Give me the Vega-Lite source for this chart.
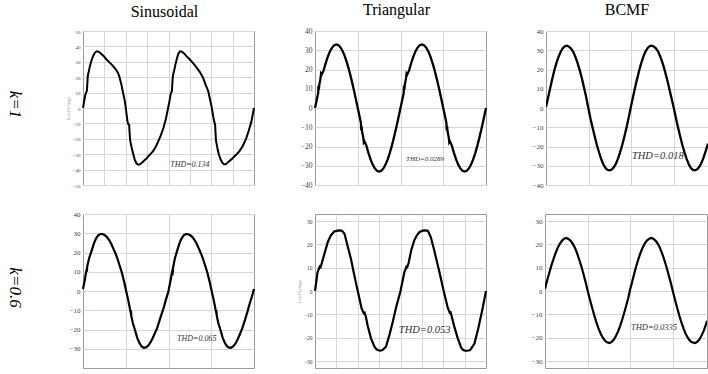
{
"$schema": "https://vega.github.io/schema/vega-lite/v6.json",
"padding": {"left": 5, "top": 1, "right": 0, "bottom": 0},
"background": "white",
"datasets": {
"s1": [{"t":0,"v":0},{"t":0.3,"v":5},{"t":0.6,"v":9},{"t":0.8,"v":10.5},{"t":0.9,"v":11},{"t":1.0,"v":15},{"t":1.1,"v":20},{"t":1.2,"v":22},{"t":1.3,"v":23},{"t":1.6,"v":27},{"t":2.0,"v":31},{"t":2.4,"v":34},{"t":2.8,"v":36},{"t":3.2,"v":36.8},{"t":3.6,"v":36.6},{"t":4.0,"v":35.9},{"t":4.8,"v":33.8},{"t":5.5,"v":31.5},{"t":6.3,"v":29.3},{"t":7.1,"v":27},{"t":7.7,"v":25},{"t":8.2,"v":22.8},{"t":8.6,"v":19.5},{"t":9.0,"v":15},{"t":9.4,"v":9.5},{"t":9.8,"v":4.3},{"t":10.1,"v":-2},{"t":10.4,"v":-8.7},{"t":10.6,"v":-10.5},{"t":10.8,"v":-11},{"t":10.9,"v":-16},{"t":11.0,"v":-20},{"t":11.1,"v":-22},{"t":11.4,"v":-26},{"t":11.8,"v":-30.4},{"t":12.1,"v":-33.5},{"t":12.5,"v":-35.9},{"t":12.9,"v":-36.8},{"t":13.3,"v":-36.6},{"t":13.9,"v":-35.2},{"t":14.9,"v":-32.6},{"t":15.6,"v":-30.4},{"t":16.4,"v":-28},{"t":17.0,"v":-25.3},{"t":17.6,"v":-21.7},{"t":18.2,"v":-17.8},{"t":18.8,"v":-13},{"t":19.4,"v":-7},{"t":19.9,"v":0},{"t":20.2,"v":4},{"t":20.5,"v":9},{"t":20.7,"v":10.5},{"t":20.8,"v":11},{"t":20.9,"v":16},{"t":21.0,"v":20},{"t":21.1,"v":22},{"t":21.3,"v":24},{"t":21.6,"v":28},{"t":22.0,"v":32.5},{"t":22.3,"v":35.2},{"t":22.7,"v":36.8},{"t":23.1,"v":36.6},{"t":23.6,"v":35.6},{"t":24.2,"v":33.7},{"t":25.0,"v":31.5},{"t":25.8,"v":29},{"t":26.5,"v":26.5},{"t":27.3,"v":23.5},{"t":28.1,"v":19.6},{"t":28.7,"v":15},{"t":29.3,"v":10.9},{"t":30.0,"v":2},{"t":30.5,"v":-6},{"t":30.8,"v":-10},{"t":30.9,"v":-10.8},{"t":31.0,"v":-16},{"t":31.1,"v":-21},{"t":31.2,"v":-22.5},{"t":31.5,"v":-27},{"t":31.8,"v":-30.4},{"t":32.2,"v":-33.5},{"t":32.6,"v":-35.5},{"t":33.0,"v":-36.6},{"t":33.4,"v":-36.6},{"t":34.0,"v":-35},{"t":35.0,"v":-32.6},{"t":35.8,"v":-30.4},{"t":36.6,"v":-28},{"t":37.4,"v":-24.5},{"t":38.2,"v":-19.6},{"t":38.8,"v":-14.5},{"t":39.4,"v":-8.7},{"t":40.0,"v":0}],
"t1": [{"t":0,"v":0},{"t":0.5,"v":5.2},{"t":0.75,"v":7.8},{"t":0.8,"v":11.5},{"t":0.9,"v":9.5},{"t":1.0,"v":12},{"t":1.3,"v":15.5},{"t":1.4,"v":17.5},{"t":1.5,"v":17},{"t":1.6,"v":17.5},{"t":2.0,"v":19.4},{"t":2.5,"v":23.3},{"t":3.0,"v":26.7},{"t":3.5,"v":29.4},{"t":4.0,"v":31.4},{"t":4.5,"v":32.6},{"t":5.0,"v":33},{"t":5.5,"v":32.6},{"t":6.0,"v":31.4},{"t":6.5,"v":29.4},{"t":7.0,"v":26.7},{"t":7.5,"v":23.3},{"t":8.0,"v":19.4},{"t":8.5,"v":15},{"t":9.0,"v":10.2},{"t":9.5,"v":5.2},{"t":10.0,"v":0},{"t":10.5,"v":-5.2},{"t":10.75,"v":-7.8},{"t":10.8,"v":-11.5},{"t":10.9,"v":-9.5},{"t":11.0,"v":-12},{"t":11.3,"v":-15.5},{"t":11.4,"v":-17.5},{"t":11.5,"v":-17},{"t":11.6,"v":-17.5},{"t":12.0,"v":-19.4},{"t":12.5,"v":-23.3},{"t":13.0,"v":-26.7},{"t":13.5,"v":-29.4},{"t":14.0,"v":-31.4},{"t":14.5,"v":-32.6},{"t":15.0,"v":-33},{"t":15.5,"v":-32.6},{"t":16.0,"v":-31.4},{"t":16.5,"v":-29.4},{"t":17.0,"v":-26.7},{"t":17.5,"v":-23.3},{"t":18.0,"v":-19.4},{"t":18.5,"v":-15},{"t":19.0,"v":-10.2},{"t":19.5,"v":-5.2},{"t":20.0,"v":0},{"t":20.5,"v":5.2},{"t":20.75,"v":7.8},{"t":20.8,"v":11.5},{"t":20.9,"v":9.5},{"t":21.0,"v":12},{"t":21.3,"v":15.5},{"t":21.4,"v":17.5},{"t":21.5,"v":17},{"t":21.6,"v":17.5},{"t":22.0,"v":19.4},{"t":22.5,"v":23.3},{"t":23.0,"v":26.7},{"t":23.5,"v":29.4},{"t":24.0,"v":31.4},{"t":24.5,"v":32.6},{"t":25.0,"v":33},{"t":25.5,"v":32.6},{"t":26.0,"v":31.4},{"t":26.5,"v":29.4},{"t":27.0,"v":26.7},{"t":27.5,"v":23.3},{"t":28.0,"v":19.4},{"t":28.5,"v":15},{"t":29.0,"v":10.2},{"t":29.5,"v":5.2},{"t":30.0,"v":0},{"t":30.5,"v":-5.2},{"t":30.75,"v":-7.8},{"t":30.8,"v":-11.5},{"t":30.9,"v":-9.5},{"t":31.0,"v":-12},{"t":31.3,"v":-15.5},{"t":31.4,"v":-17.5},{"t":31.5,"v":-17},{"t":31.6,"v":-17.5},{"t":32.0,"v":-19.4},{"t":32.5,"v":-23.3},{"t":33.0,"v":-26.7},{"t":33.5,"v":-29.4},{"t":34.0,"v":-31.4},{"t":34.5,"v":-32.6},{"t":35.0,"v":-33},{"t":35.5,"v":-32.6},{"t":36.0,"v":-31.4},{"t":36.5,"v":-29.4},{"t":37.0,"v":-26.7},{"t":37.5,"v":-23.3},{"t":38.0,"v":-19.4},{"t":38.5,"v":-15},{"t":39.0,"v":-10.2},{"t":39.5,"v":-5.2},{"t":40.0,"v":0}],
"b1": [{"t":0,"v":0.5},{"t":0.5,"v":5.5},{"t":1.0,"v":10.5},{"t":1.5,"v":15.5},{"t":2.0,"v":20},{"t":2.5,"v":23.8},{"t":3.0,"v":27},{"t":3.5,"v":29.5},{"t":4.0,"v":31.3},{"t":4.5,"v":32.2},{"t":4.9,"v":32.4},{"t":5.3,"v":32},{"t":5.8,"v":31},{"t":6.3,"v":29.5},{"t":6.8,"v":27},{"t":7.3,"v":24},{"t":7.8,"v":20.3},{"t":8.3,"v":16.2},{"t":8.8,"v":11.5},{"t":9.3,"v":6.8},{"t":9.9,"v":0},{"t":10.4,"v":-5.5},{"t":10.9,"v":-10.2},{"t":11.4,"v":-14.8},{"t":11.9,"v":-19.2},{"t":12.4,"v":-23},{"t":12.9,"v":-26.4},{"t":13.4,"v":-29.2},{"t":13.9,"v":-31.1},{"t":14.4,"v":-32.2},{"t":14.9,"v":-32.4},{"t":15.3,"v":-32.1},{"t":15.8,"v":-31},{"t":16.3,"v":-29.2},{"t":16.8,"v":-26.6},{"t":17.3,"v":-23.3},{"t":17.8,"v":-19.5},{"t":18.3,"v":-15.2},{"t":18.8,"v":-10.5},{"t":19.3,"v":-5.5},{"t":19.8,"v":0},{"t":20.3,"v":5.2},{"t":20.8,"v":10.2},{"t":21.3,"v":15},{"t":21.8,"v":19.5},{"t":22.3,"v":23.4},{"t":22.8,"v":26.8},{"t":23.3,"v":29.4},{"t":23.8,"v":31.2},{"t":24.3,"v":32.2},{"t":24.7,"v":32.4},{"t":25.2,"v":32},{"t":25.7,"v":31},{"t":26.2,"v":29.4},{"t":26.7,"v":26.9},{"t":27.2,"v":23.8},{"t":27.7,"v":20.2},{"t":28.2,"v":16},{"t":28.7,"v":11.4},{"t":29.2,"v":6.6},{"t":29.9,"v":0},{"t":30.4,"v":-5.3},{"t":30.9,"v":-10.2},{"t":31.4,"v":-14.8},{"t":31.9,"v":-19.2},{"t":32.4,"v":-23},{"t":32.9,"v":-26.4},{"t":33.4,"v":-29.2},{"t":33.9,"v":-31.2},{"t":34.4,"v":-32.2},{"t":34.8,"v":-32.4},{"t":35.3,"v":-32},{"t":35.8,"v":-30.8},{"t":36.3,"v":-28.8},{"t":36.8,"v":-26.2},{"t":37.3,"v":-22.8},{"t":37.9,"v":-18.5}],
"s2": [{"t":0,"v":1},{"t":0.4,"v":5.5},{"t":0.7,"v":9.5},{"t":0.8,"v":10.5},{"t":0.9,"v":10},{"t":1.0,"v":13},{"t":1.5,"v":17.5},{"t":2.1,"v":21.5},{"t":2.6,"v":25},{"t":3.1,"v":27.5},{"t":3.6,"v":29},{"t":4.1,"v":29.6},{"t":4.6,"v":29.6},{"t":5.1,"v":29},{"t":5.6,"v":28},{"t":6.1,"v":26.5},{"t":6.6,"v":24.5},{"t":7.1,"v":22},{"t":7.6,"v":19.5},{"t":8.1,"v":16.5},{"t":8.6,"v":13},{"t":9.1,"v":9.5},{"t":9.6,"v":5},{"t":10.1,"v":0},{"t":10.6,"v":-5},{"t":11.0,"v":-9.5},{"t":11.1,"v":-10.5},{"t":11.2,"v":-10},{"t":11.3,"v":-13},{"t":11.7,"v":-17},{"t":12.2,"v":-20.5},{"t":12.7,"v":-24.5},{"t":13.2,"v":-27},{"t":13.7,"v":-28.8},{"t":14.2,"v":-29.5},{"t":14.7,"v":-29.3},{"t":15.2,"v":-28.5},{"t":15.7,"v":-27},{"t":16.2,"v":-25},{"t":16.7,"v":-22.5},{"t":17.3,"v":-19.5},{"t":17.8,"v":-16},{"t":18.3,"v":-12.5},{"t":18.9,"v":-8.5},{"t":19.4,"v":-4.5},{"t":20.0,"v":0},{"t":20.4,"v":4.5},{"t":20.8,"v":9.5},{"t":20.9,"v":10.5},{"t":21.0,"v":10},{"t":21.1,"v":12.5},{"t":21.5,"v":17},{"t":22.1,"v":21.5},{"t":22.6,"v":25},{"t":23.1,"v":27.5},{"t":23.6,"v":29},{"t":24.1,"v":29.6},{"t":24.6,"v":29.5},{"t":25.1,"v":29},{"t":25.6,"v":28},{"t":26.1,"v":26.5},{"t":26.6,"v":24.5},{"t":27.1,"v":22},{"t":27.6,"v":19.5},{"t":28.1,"v":16.5},{"t":28.6,"v":13},{"t":29.1,"v":9.5},{"t":29.6,"v":5},{"t":30.1,"v":0},{"t":30.6,"v":-5},{"t":31.0,"v":-9.5},{"t":31.1,"v":-10.5},{"t":31.2,"v":-10},{"t":31.3,"v":-13},{"t":31.7,"v":-17},{"t":32.2,"v":-20.5},{"t":32.7,"v":-24.5},{"t":33.2,"v":-27},{"t":33.7,"v":-28.8},{"t":34.2,"v":-29.4},{"t":34.6,"v":-29.5},{"t":35.1,"v":-28.8},{"t":35.6,"v":-27.5},{"t":36.1,"v":-25.5},{"t":36.7,"v":-22.5},{"t":37.3,"v":-19},{"t":37.9,"v":-15},{"t":38.5,"v":-10.5},{"t":39.0,"v":-6.5},{"t":39.5,"v":-3},{"t":40.0,"v":1}],
"t2": [{"t":0,"v":0},{"t":0.6,"v":8},{"t":1.1,"v":10.5},{"t":1.3,"v":10.2},{"t":1.6,"v":12},{"t":2.2,"v":16},{"t":3.0,"v":21},{"t":3.7,"v":23.8},{"t":4.5,"v":25.5},{"t":5.3,"v":25.9},{"t":5.8,"v":26},{"t":6.3,"v":25.8},{"t":6.9,"v":24.5},{"t":7.6,"v":19.5},{"t":8.4,"v":13.8},{"t":9.2,"v":6.7},{"t":10.0,"v":0},{"t":10.9,"v":-7.5},{"t":11.4,"v":-9.5},{"t":11.6,"v":-9.3},{"t":11.9,"v":-11},{"t":12.3,"v":-14.7},{"t":13.1,"v":-20.3},{"t":13.9,"v":-23.9},{"t":14.4,"v":-25},{"t":14.8,"v":-25.4},{"t":15.3,"v":-25.6},{"t":15.8,"v":-25.3},{"t":16.6,"v":-23.9},{"t":17.4,"v":-18.9},{"t":18.2,"v":-13.2},{"t":19.0,"v":-6.8},{"t":20.0,"v":0},{"t":20.9,"v":8},{"t":21.4,"v":10.5},{"t":21.6,"v":10.3},{"t":21.9,"v":12},{"t":22.5,"v":17.4},{"t":23.2,"v":21.6},{"t":23.8,"v":23.8},{"t":24.4,"v":25.2},{"t":25.2,"v":25.9},{"t":25.8,"v":26},{"t":26.4,"v":25.8},{"t":27.1,"v":23},{"t":27.9,"v":17.4},{"t":28.5,"v":12.7},{"t":29.1,"v":8.1},{"t":30.1,"v":0},{"t":31.0,"v":-6.8},{"t":31.5,"v":-9.3},{"t":31.7,"v":-9.1},{"t":32.0,"v":-11},{"t":32.6,"v":-15.4},{"t":33.4,"v":-20.3},{"t":34.2,"v":-24.3},{"t":34.6,"v":-25.2},{"t":35.1,"v":-25.6},{"t":35.7,"v":-25.6},{"t":36.3,"v":-25.3},{"t":37.3,"v":-22.5},{"t":38.2,"v":-16},{"t":39.2,"v":-7.5},{"t":40.0,"v":0}],
"b2": [{"t":0,"v":1},{"t":0.5,"v":4.5},{"t":1.0,"v":7.8},{"t":1.5,"v":11},{"t":2.0,"v":13.8},{"t":2.5,"v":16.4},{"t":3.0,"v":18.6},{"t":3.5,"v":20.3},{"t":4.0,"v":21.6},{"t":4.5,"v":22.4},{"t":5.0,"v":22.7},{"t":5.5,"v":22.3},{"t":6.0,"v":21.5},{"t":6.5,"v":20.2},{"t":7.0,"v":18.5},{"t":7.5,"v":16.2},{"t":8.0,"v":13.5},{"t":8.5,"v":10.6},{"t":9.0,"v":7.3},{"t":9.5,"v":3.8},{"t":10.0,"v":0},{"t":10.5,"v":-3.6},{"t":11.0,"v":-7},{"t":11.5,"v":-10.3},{"t":12.0,"v":-13.3},{"t":12.5,"v":-15.9},{"t":13.0,"v":-18.2},{"t":13.5,"v":-19.9},{"t":14.0,"v":-21.2},{"t":14.5,"v":-22},{"t":15.1,"v":-22.3},{"t":15.6,"v":-21.8},{"t":16.1,"v":-20.8},{"t":16.6,"v":-19.3},{"t":17.1,"v":-17.3},{"t":17.6,"v":-14.8},{"t":18.1,"v":-12},{"t":18.6,"v":-8.9},{"t":19.1,"v":-5.6},{"t":19.5,"v":-2.8},{"t":19.9,"v":0.5},{"t":20.4,"v":4},{"t":20.9,"v":7.6},{"t":21.4,"v":11},{"t":21.9,"v":14},{"t":22.4,"v":16.6},{"t":22.9,"v":18.8},{"t":23.4,"v":20.5},{"t":23.9,"v":21.7},{"t":24.4,"v":22.4},{"t":24.9,"v":22.7},{"t":25.4,"v":22.3},{"t":25.9,"v":21.5},{"t":26.4,"v":20.2},{"t":26.9,"v":18.4},{"t":27.4,"v":16.1},{"t":27.9,"v":13.4},{"t":28.4,"v":10.4},{"t":28.9,"v":7.1},{"t":29.4,"v":3.7},{"t":29.9,"v":0},{"t":30.4,"v":-3.6},{"t":30.9,"v":-7.1},{"t":31.4,"v":-10.4},{"t":31.9,"v":-13.4},{"t":32.4,"v":-16},{"t":32.9,"v":-18.3},{"t":33.4,"v":-20},{"t":33.9,"v":-21.3},{"t":34.4,"v":-22},{"t":35.1,"v":-22.3},{"t":35.6,"v":-21.8},{"t":36.1,"v":-20.8},{"t":36.6,"v":-19.2},{"t":37.1,"v":-17.2},{"t":37.5,"v":-15.2},{"t":37.9,"v":-12.8}]
},
"vconcat": [
{
"spacing": 40,
"hconcat": [
{
"width": 171, "height": 154,
"title": {"text": "Sinusoidal", "frame": "group", "dx": -4},
"layer": [
{"data": {"name": "s1"}, "mark": {"type": "line", "color": "#000", "strokeWidth": 2},
"encoding": {
"x": {"field": "t", "type": "quantitative", "scale": {"domain": [0, 40], "nice": false}, "axis": {"title": null, "values": [5,10,15,20,25,30,35]}},
"y": {"field": "v", "type": "quantitative", "scale": {"domain": [-50, 50], "nice": false}, "axis": {"title": "Load Voltage", "values": [-50,-40,-30,-20,-10,0,10,20,30,40,50], "labelFontSize": 5}}
}},
{"data": {"values": [{"t": 20.4, "v": -37, "label": "THD=0.134"}]}, "mark": {"type": "text", "align": "left", "fontSize": 8},
"encoding": {
"x": {"field": "t", "type": "quantitative", "scale": {"domain": [0, 40], "nice": false}, "axis": {"title": null, "values": [5,10,15,20,25,30,35]}},
"y": {"field": "v", "type": "quantitative", "scale": {"domain": [-50, 50], "nice": false}, "axis": {"orient": "left", "labels": false, "grid": false, "title": "k=1", "titleAngle": 90, "titleBaseline": "top", "titleFontSize": 17, "titleFontStyle": "italic", "titleColor": "#000", "titlePadding": 61, "titleY": 73}},
"text": {"field": "label"}
}}
],
"resolve": {"scale": {"y": "independent"}, "axis": {"y": "independent"}}
},
{
"spacing": 39,
"hconcat": [
{
"width": 171, "height": 154,
"title": {"text": "Triangular", "frame": "group", "dx": -4},
"data": {"name": "t1"},
"encoding": {
"x": {"field": "t", "type": "quantitative", "scale": {"domain": [0, 40], "nice": false}, "axis": {"title": null, "values": [10,20,30]}},
"y": {"field": "v", "type": "quantitative", "scale": {"domain": [-40, 40], "nice": false}, "axis": {"title": null, "values": [-40,-30,-20,-10,0,10,20,30,40], "labelFontSize": 7.5}}
},
"layer": [
{"mark": {"type": "line", "color": "#000", "strokeWidth": 2.3}},
{"data": {"values": [{"t": 21.3, "v": -26.3, "label": "THD=0.0289"}]}, "mark": {"type": "text", "align": "left", "fontSize": 7}, "encoding": {"text": {"field": "label"}}}
]
},
{
"width": 162, "height": 154,
"title": {"text": "BCMF", "frame": "group"},
"data": {"name": "b1"},
"encoding": {
"x": {"field": "t", "type": "quantitative", "scale": {"domain": [0, 37.9], "nice": false}, "axis": {"title": null, "values": [10,20,30]}},
"y": {"field": "v", "type": "quantitative", "scale": {"domain": [-40, 40], "nice": false}, "axis": {"title": null, "values": [-40,-30,-20,-10,0,10,20,30,40], "labelFontSize": 7}}
},
"layer": [
{"mark": {"type": "line", "color": "#000", "strokeWidth": 2.3, "clip": true}},
{"data": {"values": [{"t": 20.1, "v": -24.8, "label": "THD=0.018"}]}, "mark": {"type": "text", "align": "left", "fontSize": 10.5}, "encoding": {"text": {"field": "label"}}}
]
}
]
}
]
},
{
"spacing": 36,
"hconcat": [
{
"width": 171, "height": 154,
"layer": [
{"data": {"name": "s2"}, "mark": {"type": "line", "color": "#000", "strokeWidth": 2.2},
"encoding": {
"x": {"field": "t", "type": "quantitative", "scale": {"domain": [0, 40], "nice": false}, "axis": {"title": null, "values": [10,20,30]}},
"y": {"field": "v", "type": "quantitative", "scale": {"domain": [-40, 40], "nice": false}, "axis": {"title": null, "values": [-30,-20,-10,0,10,20,30,40], "labelFontSize": 7}}
}},
{"data": {"values": [{"t": 22.0, "v": -24.9, "label": "THD=0.065"}]}, "mark": {"type": "text", "align": "left", "fontSize": 8},
"encoding": {
"x": {"field": "t", "type": "quantitative", "scale": {"domain": [0, 40], "nice": false}, "axis": {"title": null, "values": [10,20,30]}},
"y": {"field": "v", "type": "quantitative", "scale": {"domain": [-40, 40], "nice": false}, "axis": {"orient": "left", "labels": false, "grid": false, "title": "k=0.6", "titleAngle": 90, "titleBaseline": "top", "titleFontSize": 17, "titleFontStyle": "italic", "titleColor": "#000", "titlePadding": 61, "titleY": 73}},
"text": {"field": "label"}
}}
],
"resolve": {"scale": {"y": "independent"}, "axis": {"y": "independent"}}
},
{
"spacing": 39,
"hconcat": [
{
"width": 171, "height": 154,
"data": {"name": "t2"},
"encoding": {
"x": {"field": "t", "type": "quantitative", "scale": {"domain": [0, 40], "nice": false}, "axis": {"title": null, "values": [5,10,15,20,25,30,35]}},
"y": {"field": "v", "type": "quantitative", "scale": {"domain": [-33, 33], "nice": false}, "axis": {"title": "Load Voltage", "values": [-30,-20,-10,0,10,20,30], "labelFontSize": 5.5}}
},
"layer": [
{"mark": {"type": "line", "color": "#000", "strokeWidth": 2.2}},
{"data": {"values": [{"t": 19.6, "v": -16.6, "label": "THD=0.053"}]}, "mark": {"type": "text", "align": "left", "fontSize": 10.5}, "encoding": {"text": {"field": "label"}}}
]
},
{
"width": 162, "height": 154,
"data": {"name": "b2"},
"encoding": {
"x": {"field": "t", "type": "quantitative", "scale": {"domain": [0, 37.9], "nice": false}, "axis": {"title": null, "values": [10,20,30]}},
"y": {"field": "v", "type": "quantitative", "scale": {"domain": [-33, 33], "nice": false}, "axis": {"title": null, "values": [-30,-20,-10,0,10,20,30], "labelFontSize": 7}}
},
"layer": [
{"mark": {"type": "line", "color": "#000", "strokeWidth": 2.2, "clip": true}},
{"data": {"values": [{"t": 20.1, "v": -15.3, "label": "THD=0.0335"}]}, "mark": {"type": "text", "align": "left", "fontSize": 8.5}, "encoding": {"text": {"field": "label"}}}
]
}
]
}
]
}
],
"spacing": 20,
"config": {
"font": "Liberation Serif",
"view": {"stroke": "#9a9a9a", "strokeWidth": 1},
"axis": {"grid": true, "gridColor": "#d6d6d6", "gridWidth": 1, "ticks": false, "domain": false, "minExtent": 0, "labelFont": "Liberation Serif", "labelColor": "#444", "labelPadding": 3, "labelOverlap": false, "titleFont": "Liberation Serif", "titleFontWeight": "normal", "titleFontSize": 4.5, "titleColor": "#999", "titlePadding": 2},
"axisX": {"labels": false},
"axisY": {"minExtent": 0},
"title": {"font": "Liberation Serif", "fontSize": 16, "fontWeight": "normal", "color": "#000", "offset": 9},
"text": {"font": "Liberation Serif", "fontStyle": "italic", "color": "#333", "baseline": "middle"}
}
}
